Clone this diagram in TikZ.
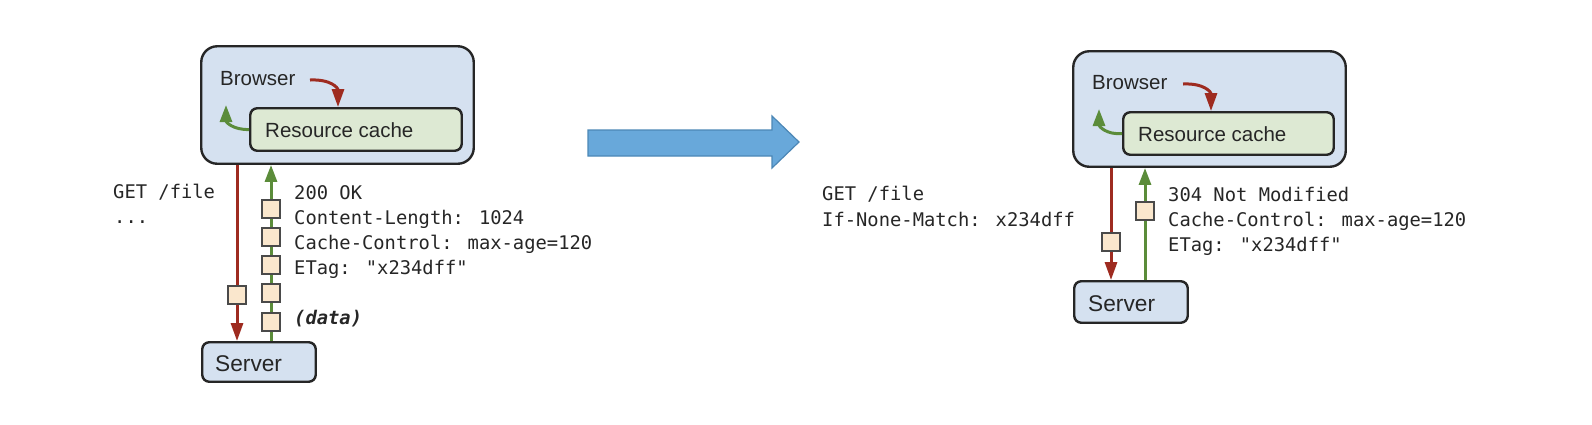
\documentclass[tikz,border=0pt]{standalone}
\usepackage{fontspec}
\setmainfont{Liberation Sans}
\newfontfamily\monofont{DejaVu Sans Mono}
\usetikzlibrary{arrows.meta}
\definecolor{bfill}{HTML}{D5E1F0}
\definecolor{cfill}{HTML}{DDE9D3}
\definecolor{sqfill}{HTML}{FAE7CD}
\definecolor{boxline}{HTML}{262626}
\definecolor{sqline}{HTML}{4A4A4A}
\definecolor{redarr}{HTML}{9E2B20}
\definecolor{greenarr}{HTML}{5B8C3A}
\definecolor{bluefill}{HTML}{68A8DA}
\definecolor{blueline}{HTML}{4C87B6}
\definecolor{txt}{HTML}{262626}
\begin{document}
\begin{tikzpicture}[x=1pt,y=-1pt,
  bigbox/.style={draw=boxline, line width=2.4pt, fill=bfill, rounded corners=16pt, inner sep=0pt},
  cachebox/.style={draw=boxline, line width=2.4pt, fill=cfill, rounded corners=7pt, inner sep=0pt},
  srvbox/.style={draw=boxline, line width=2.4pt, fill=bfill, rounded corners=7pt, inner sep=0pt},
  sq/.style={draw=sqline, line width=1.8pt, fill=sqfill, minimum size=18.5pt, inner sep=0pt},
  lbl/.style={anchor=base west, inner sep=0pt, text=txt, font=\fontsize{20.5}{24}\selectfont},
  slbl/.style={anchor=base west, inner sep=0pt, text=txt, font=\fontsize{22.7}{26}\selectfont},
  mono/.style={anchor=base west, inner sep=0pt, text=txt, font=\monofont\fontsize{18.8}{22}\selectfont},
  rline/.style={draw=redarr, line width=3pt, -{Triangle[width=12pt,length=18pt]}},
  gline/.style={draw=greenarr, line width=3pt, -{Triangle[width=12pt,length=17pt]}},
]
\useasboundingbox (0,0) rectangle (1592,424);

% ---------------- left diagram ----------------
\node[bigbox, minimum width=272.5pt, minimum height=117.5pt] (browserL) at (337.5,105) {};
\node[cachebox, minimum width=211.5pt, minimum height=42.5pt] (cacheL) at (356,129.5) {};
\node[srvbox, minimum width=113.5pt, minimum height=39.5pt] (serverL) at (259,362) {};
\node[lbl] (btL) at (220,85) {Browser};
\node[lbl] (ctL) at (265,137) {Resource cache};
\node[slbl] (stL) at (215,371.5) {Server};

\coordinate (rsL) at (310,80);
\coordinate (gtL) at (226,105);
\draw[rline] (rsL) .. controls (331,79) and (338,88) .. (cacheL.north -| 338,0);
\draw[gline] (cacheL.west) .. controls (233,130) and (226,122) .. (gtL);

\coordinate (rxL) at (237,0);
\coordinate (gxL) at (271,0);
\draw[rline] (browserL.south -| rxL) -- (serverL.north -| rxL);
\draw[gline] (serverL.north -| gxL) -- (browserL.south -| gxL);

\node[sq] (rqL) at (237,295) {};
\node[sq] (gq1L) at (271,209) {};
\node[sq] (gq2L) at (271,237) {};
\node[sq] (gq3L) at (271,265) {};
\node[sq] (gq4L) at (271,293) {};
\node[sq] (gq5L) at (271,322) {};

\node[mono] (getL) at (113,198) {GET /file};
\node[mono] (dotsL) at (114,223) {...};
\node[mono] (okL) at (294,199) {200 OK};
\node[mono] (clL) at (294,224) {Content-Length: 1024};
\node[mono] (ccL) at (294,249) {Cache-Control: max-age=120};
\node[mono] (etL) at (294,274) {ETag: "x234dff"};
\node[mono, font=\monofont\bfseries\itshape\fontsize{18.8}{22}\selectfont] (dataL) at (294,324) {(data)};

% ---------------- big arrow ----------------
\draw[fill=bluefill, draw=blueline, line width=1.2pt]
  (588,130) -- (772,130) -- (772,116) -- (799,142) -- (772,168) -- (772,156) -- (588,156) -- cycle;

% ---------------- right diagram ----------------
\node[bigbox, minimum width=272.5pt, minimum height=115.5pt] (browserR) at (1209.5,109) {};
\node[cachebox, minimum width=210.5pt, minimum height=42.5pt] (cacheR) at (1228.5,133.5) {};
\node[srvbox, minimum width=113.5pt, minimum height=41.5pt] (serverR) at (1131,302) {};
\node[lbl] (btR) at (1092,89) {Browser};
\node[lbl] (ctR) at (1138,141) {Resource cache};
\node[slbl] (stR) at (1088,311.5) {Server};

\coordinate (rsR) at (1183,84);
\coordinate (gtR) at (1099,109);
\draw[rline] (rsR) .. controls (1204,83) and (1211,92) .. (cacheR.north -| 1211,0);
\draw[gline] (cacheR.west) .. controls (1106,135) and (1099,126) .. (gtR);

\coordinate (rxR) at (1111,0);
\coordinate (gxR) at (1145,0);
\draw[rline] (browserR.south -| rxR) -- (serverR.north -| rxR);
\draw[gline] (serverR.north -| gxR) -- (browserR.south -| gxR);

\node[sq] (rqR) at (1111,242) {};
\node[sq] (gqR) at (1145,211) {};

\node[mono] (getR) at (822,200) {GET /file};
\node[mono] (inmR) at (822,226) {If-None-Match: x234dff};
\node[mono] (nmR) at (1168,201) {304 Not Modified};
\node[mono] (ccR) at (1168,226) {Cache-Control: max-age=120};
\node[mono] (etR) at (1168,251) {ETag: "x234dff"};
\end{tikzpicture}
\end{document}
